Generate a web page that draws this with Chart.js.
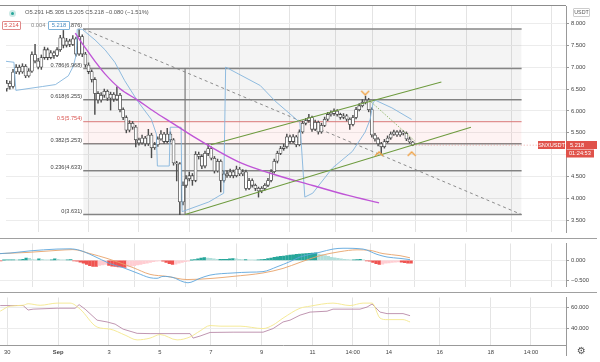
<!DOCTYPE html>
<html><head><meta charset="utf-8">
<script src="https://cdn.jsdelivr.net/npm/chart.js@4/dist/chart.umd.min.js"></script>
<style>
html,body{margin:0;padding:0;background:#fff;}
#wrap{position:relative;width:600px;height:362px;overflow:hidden;font-family:"Liberation Sans",Arial,sans-serif;}
canvas{position:absolute;left:0;}
.t{position:absolute;font-size:5.8px;color:#444;white-space:nowrap;line-height:1;}
.ln{position:absolute;background:#999;}
.box{position:absolute;font-size:5.8px;line-height:7px;text-align:center;background:#fff;box-sizing:border-box;border-radius:1px;}
</style></head><body>
<div id="wrap">
<canvas id="c1" width="600" height="238" style="top:0;width:600px;height:238px"></canvas>
<canvas id="c2" width="600" height="54" style="top:238px;width:600px;height:54px"></canvas>
<canvas id="c3" width="600" height="70" style="top:292px;width:600px;height:70px"></canvas>
<div class="ln" style="left:0;top:5px;width:566px;height:1px;background:#8c8c8c"></div>
<div class="ln" style="left:0;top:238px;width:597px;height:1px;background:#a0a0a0"></div>
<div class="ln" style="left:0;top:292px;width:597px;height:1px;background:#a0a0a0"></div>
<div class="ln" style="left:566px;top:345px;width:1px;height:11px;background:#999"></div>
<div style="position:absolute;left:9px;top:10px;width:7px;height:7px;border-radius:50%;background:#cdeae6"></div>
<div style="position:absolute;left:11px;top:12px;width:3px;height:3px;border-radius:50%;background:#26a69a"></div>
<div class="t" style="left:25px;top:10px;color:#555">O5.291 H5.305 L5.205 C5.218 −0.080 (−1.51%)</div>
<div class="box" style="left:2px;top:21px;width:19px;height:9px;border:1px solid #e08a8a;color:#d9534f">5.214</div>
<div class="t" style="left:31px;top:23px;color:#888">0.004</div>
<div class="box" style="left:48px;top:21px;width:22px;height:9px;border:1px solid #7fb3d9;color:#4a8cc0">5.218</div>
<div class="box" style="left:573px;top:8px;width:17px;height:9px;border:1px solid #ccc;color:#555;font-size:5.3px">USDT</div>
<div class="t" style="left:577px;top:346px;font-size:10px;color:#555;font-family:'DejaVu Sans'">⚙</div>
</div>
<script>
// ---------- candles (3h bars, first bar 2020-08-29 18:00 UTC) ----------
const START = '2020-08-29T18:00:00Z';
const opens = [
6.51,6.63,6.56,6.89,7.00,6.89,7.02,6.80,6.91,7.29,
7.14,7.00,7.22,7.40,7.22,7.33,7.27,7.40,7.67,7.50,
7.60,7.52,7.65,7.30,7.70,7.30,7.05,6.90,6.72,6.40,
6.25,6.36,6.45,6.29,6.38,6.27,6.36,6.03,5.85,5.56,
5.72,5.63,5.34,5.27,5.38,5.25,5.45,5.16,5.23,5.36,
5.47,5.30,5.47,5.34,4.81,4.79,3.92,4.30,4.45,4.52,
4.41,5.01,4.96,4.74,5.03,5.14,4.92,4.63,4.85,4.41,
4.56,4.52,4.61,4.52,4.67,4.56,4.61,4.23,4.41,4.30,
4.23,4.17,4.23,4.30,4.41,4.61,4.85,5.03,5.14,5.18,
5.41,5.30,5.41,5.23,5.52,5.72,5.78,5.85,5.58,5.74,
5.52,5.67,5.81,5.92,5.94,6.00,5.92,5.85,5.89,5.81,
5.69,5.85,6.03,6.12,6.20,6.25,6.03,5.45,5.36,5.25,
5.18,5.30,5.38,5.47,5.52,5.45,5.52,5.49,5.36,5.291];
const highs = [
6.70,6.68,6.95,7.06,7.05,7.08,7.06,6.97,7.35,7.52,
7.20,7.28,7.46,7.44,7.38,7.37,7.45,7.73,7.84,7.66,
7.64,7.72,7.69,7.87,7.74,7.34,7.10,6.94,6.76,6.44,
6.42,6.50,6.48,6.43,6.42,6.55,6.40,6.07,5.89,5.78,
5.76,5.67,5.38,5.45,5.42,5.58,5.49,5.28,5.41,5.55,
5.51,5.60,5.52,5.37,4.85,4.82,4.38,4.52,4.60,4.57,
5.07,5.06,5.00,5.08,5.23,5.18,4.96,4.90,4.88,4.62,
4.63,4.67,4.65,4.74,4.71,4.66,4.65,4.46,4.45,4.33,
4.26,4.27,4.34,4.46,4.66,4.90,5.08,5.19,5.24,5.47,
5.45,5.46,5.44,5.57,5.77,5.83,5.92,5.88,5.79,5.77,
5.72,5.86,5.97,6.00,6.05,6.03,5.95,5.94,5.92,5.84,
5.90,6.08,6.17,6.26,6.34,6.29,6.07,5.49,5.39,5.28,
5.35,5.43,5.52,5.56,5.55,5.56,5.55,5.52,5.40,5.305];
const lows = [
6.45,6.50,6.52,6.85,6.84,6.86,6.76,6.77,6.88,7.10,
6.96,6.95,7.18,7.17,7.19,7.20,7.24,7.36,7.44,7.46,
7.47,7.49,7.25,7.27,7.24,7.00,6.85,6.66,5.92,6.18,
6.20,6.31,6.24,6.02,6.22,6.24,5.98,5.80,5.50,5.52,
5.58,5.18,5.22,5.24,5.20,5.21,4.93,5.12,5.19,5.33,
5.26,5.27,5.29,4.76,4.40,3.63,3.85,4.25,4.40,4.30,
4.38,4.90,4.68,4.70,4.98,4.88,4.58,4.60,4.15,4.37,
4.48,4.48,4.47,4.49,4.52,4.52,4.19,4.20,4.26,4.18,
4.03,4.13,4.19,4.27,4.38,4.58,4.81,5.00,5.10,5.15,
5.26,5.27,5.18,5.20,5.49,5.68,5.74,5.53,5.55,5.47,
5.49,5.64,5.78,5.88,5.90,5.88,5.81,5.82,5.77,5.58,
5.66,5.82,6.00,6.09,6.16,5.98,5.40,5.31,5.20,5.03,
5.15,5.27,5.35,5.44,5.42,5.42,5.45,5.32,5.26,5.205];
const closes = [
6.63,6.56,6.89,7.00,6.89,7.02,6.80,6.91,7.29,7.14,
7.00,7.22,7.40,7.22,7.33,7.27,7.40,7.67,7.50,7.60,
7.52,7.65,7.30,7.70,7.30,7.05,6.90,6.72,6.40,6.25,
6.36,6.45,6.29,6.38,6.27,6.36,6.03,5.85,5.56,5.72,
5.63,5.34,5.27,5.38,5.25,5.45,5.16,5.23,5.36,5.47,
5.30,5.47,5.34,4.81,4.79,3.92,4.30,4.45,4.52,4.41,
5.01,4.96,4.74,5.03,5.14,4.92,4.63,4.85,4.41,4.56,
4.52,4.61,4.52,4.67,4.56,4.61,4.23,4.41,4.30,4.23,
4.17,4.23,4.30,4.41,4.61,4.85,5.03,5.14,5.18,5.41,
5.30,5.41,5.23,5.52,5.72,5.78,5.85,5.58,5.74,5.52,
5.67,5.81,5.92,5.94,6.00,5.92,5.85,5.89,5.81,5.69,
5.85,6.03,6.12,6.20,6.25,6.03,5.45,5.36,5.25,5.18,
5.30,5.38,5.47,5.52,5.45,5.52,5.49,5.36,5.291,5.218];

// MACD histogram, one value per bar
const macdHist = [
-0.01,0.005,0.01,0.01,0.015,0.01,0.01,0.03,0.06,0.05,
0.02,0.015,0.04,0.03,0.015,0.01,0.01,0.04,0.03,0.015,
0.01,0.015,0.02,-0.01,-0.02,-0.04,-0.07,-0.10,-0.13,-0.15,
-0.15,-0.12,-0.11,-0.10,-0.12,-0.14,-0.15,-0.16,-0.16,-0.17,
-0.15,-0.14,-0.13,-0.11,-0.10,-0.08,-0.07,-0.05,-0.03,-0.02,
-0.01,-0.02,-0.05,-0.08,-0.10,-0.09,-0.07,-0.05,-0.03,-0.015,
0.005,0.02,0.04,0.06,0.07,0.06,0.05,0.04,0.03,0.03,
0.03,0.03,0.04,0.045,0.04,0.03,0.02,0.02,0.015,0.01,
0.005,0.01,0.02,0.03,0.045,0.06,0.075,0.09,0.10,0.11,
0.12,0.13,0.14,0.15,0.16,0.165,0.17,0.175,0.18,0.185,
0.16,0.14,0.12,0.10,0.08,0.065,0.05,0.04,0.03,0.02,
0.01,0.015,0.02,0.025,0.01,-0.01,-0.02,-0.05,-0.08,-0.10,
-0.09,-0.07,-0.06,-0.05,-0.04,-0.035,-0.045,-0.055,-0.065,-0.07];

// MACD / signal lines (bar index, value)
const macdBar = [-0.23,2.91,9.20,17.69,21.78,24.92,29.01,34.35,38.44,42.84,46.92,49.13,51.01,54.16,57.30,58.87,62.64,65.79,73.02,78.36,82.45,86.85,90.93,94.08,100.37,104.45,107.60,113.88,118.29,121.43,125.52,128.66];
const macdVal = [0.169,0.183,0.236,0.281,0.287,0.248,0.118,-0.079,-0.177,-0.309,-0.427,-0.441,-0.394,-0.421,-0.526,-0.551,-0.441,-0.362,-0.309,-0.289,-0.276,-0.157,-0.028,0.085,0.203,0.281,0.301,0.281,0.150,0.085,0.051,0.020];
const signalBar = [-0.23,8.26,17.69,22.72,28.06,33.41,41.58,46.92,52.27,58.56,66.73,73.02,82.45,88.74,94.08,100.37,106.66,112.00,116.09,120.17,125.52,128.66];
const signalVal = [0.169,0.197,0.248,0.268,0.169,0.051,-0.177,-0.343,-0.394,-0.472,-0.441,-0.394,-0.309,-0.197,-0.047,0.118,0.217,0.262,0.248,0.169,0.118,0.065];

// lower oscillator lines
const oscABar = [-0.23,7.00,8.57,10.14,17.69,23.35,24.60,26.49,30.26,33.41,35.92,38.44,42.84,46.92,59.50,60.44,62.64,65.79,73.02,82.45,85.59,88.74,90.93,94.08,97.22,102.57,104.45,112.94,115.14,116.72,119.23,121.43,126.46,128.66];
const oscAVal = [61.69,61.69,57.47,58.31,59.16,59.16,62.53,58.31,47.93,46.24,44.22,39.49,35.53,35.27,35.27,31.05,33.00,36.37,36.62,36.62,40.00,46.24,47.93,52.66,55.53,56.37,58.31,58.31,60.25,63.12,55.53,54.09,54.09,52.15];
const oscBBar = [-0.23,2.91,7.00,8.57,12.34,17.69,21.78,24.92,30.26,34.35,39.07,42.84,46.92,50.07,55.41,59.50,62.64,65.79,68.93,75.22,82.45,85.59,88.74,94.08,97.22,104.45,109.80,113.88,116.72,119.23,121.43,126.46,128.66];
const oscBVal = [56.37,61.10,61.94,63.38,61.94,63.97,63.97,58.31,41.43,39.49,33.84,29.37,31.05,34.43,29.37,32.15,37.81,42.87,42.28,42.28,40.00,43.38,49.87,59.16,61.10,63.97,61.69,63.97,63.97,49.87,48.44,48.44,46.24];

// overlay indicator lines on price pane (bar index, price)
const maBar = [21.78,24.92,28.06,31.21,35.92,41.58,46.92,52.27,59.50,65.79,74.59,85.28,97.22,108.2,118.3];
const maVal = [7.778,7.446,7.135,6.847,6.514,6.248,5.982,5.738,5.406,5.140,4.807,4.541,4.297,4.075,3.898];
const stopBar = [-0.23,2.29,2.91,11.40,15.49,19.58,21.15,22.09,22.40,23.98,28.06,31.21,34.35,37.49,41.58,45.98,47.55,47.87,51.64,51.95,55.41,55.73,64.22,68.93,69.56,80.56,85.28,93.14,94.71,97.22,103.51,109.80,113.88,115.46,116.40,117.03,122.37,128.66];
const stopVal = [7.135,7.113,6.470,6.559,6.603,6.803,7.024,7.290,7.867,7.867,7.623,7.401,7.113,6.692,6.226,5.805,5.472,4.741,4.741,5.628,5.628,3.698,3.920,4.120,7.002,6.581,6.226,5.738,4.031,4.120,4.696,5.073,5.517,5.805,6.182,6.248,6.071,5.805];

// drawings
const fibRatios = [1,0.786,0.618,0.5,0.382,0.236,0];
const fibPrices = [7.876,6.968,6.255,5.754,5.253,4.633,3.631];
const fibFrom = 24.3, fibTo = 163.6;
const channelUpper = [[64.84,5.229],[138.1,6.66]];
const channelLower = [[56.67,3.631],[147.5,5.628]];
const projection = [[115.1,6.248],[129.6,5.317]];
const pivotHigh = [[113.9,6.404]];
const pivotLow = [[118.3,5.029],[128.66,5.029]];
const verticalAt = 56.67;

// axis ticks
const tickDates = ['2020-08-30T00:00Z','2020-09-01T00:00Z','2020-09-03T00:00Z','2020-09-05T00:00Z','2020-09-07T00:00Z','2020-09-09T00:00Z','2020-09-11T00:00Z','2020-09-12T14:00Z','2020-09-14T00:00Z','2020-09-16T00:00Z','2020-09-18T00:00Z','2020-09-19T14:00Z'];
const tickLabels = ['30','Sep','3','5','7','9','11','14:00','14','16','18','14:00'];
const priceTicks = [3.5,4,4.5,5,5.5,6,6.5,7,7.5,8];
const macdTicks = [-0.5,0];
const oscTicks = [40,60];
const lastPrice = 5.218, symbol = 'SNXUSDT', countdown = '01:24:53';

// ---------- chart setup ----------
const t0 = Date.parse(START);
const tickIdx = tickDates.map(s => (Date.parse(s) - t0) / (3 * 3600e3));
const X_MIN = -0.23, X_MAX = 177.7;
Chart.defaults.font.family = '"Liberation Sans", Arial, sans-serif';
Chart.defaults.font.size = 5.8;
Chart.defaults.color = '#444';

const pts = (xs, ys) => xs.map((x, i) => ({x, y: ys[i]}));
const pairs = a => a.map(p => ({x: p[0], y: p[1]}));

function xAxis(labels) {
  return {
    type: 'linear', min: X_MIN, max: X_MAX, offset: false,
    afterBuildTicks: s => { s.ticks = tickIdx.map(v => ({value: v})); },
    afterFit: s => { s.height = labels ? 17 : 0; },
    grid: {color: '#e4e4e4', lineWidth: 1, drawTicks: false},
    border: {display: labels, color: '#999'},
    ticks: {display: labels, autoSkip: false, maxRotation: 0, padding: 4, color: '#444',
      callback: (v, i) => tickLabels[i],
      font: c => ({size: 5.8, weight: c.index === 1 ? 'bold' : 'normal'})}
  };
}
function yAxis(min, max, ticks, fmt) {
  return {
    type: 'linear', position: 'right', min, max,
    afterBuildTicks: s => { s.ticks = ticks.map(v => ({value: v})); },
    afterFit: s => { s.width = 34; },
    grid: {color: '#ececec', tickLength: 3, tickColor: '#999'},
    border: {display: true, color: '#999'},
    ticks: {callback: fmt, color: '#444', padding: 2, font: {size: 5.8}}
  };
}
const fmt3 = v => (v < 0 ? '\u2212' : '') + Math.abs(v).toFixed(3);
const base = {
  responsive: false, animation: false, devicePixelRatio: 1, events: [],
  plugins: {legend: {display: false}, tooltip: {enabled: false}},
  elements: {point: {radius: 0}, line: {tension: 0}}
};

function chevron(up) {
  const c = document.createElement('canvas'); c.width = 10; c.height = 7;
  const g = c.getContext('2d'); g.strokeStyle = '#f0a040'; g.lineWidth = 1.3;
  g.beginPath();
  if (up) { g.moveTo(1, 6); g.lineTo(5, 2); g.lineTo(9, 6); }
  else { g.moveTo(1, 1); g.lineTo(5, 5); g.lineTo(9, 1); }
  g.stroke(); return c;
}

// fib datasets
const fibSets = fibRatios.map((r, k) => ({
  type: 'line', order: 20,
  data: [{x: fibFrom, y: fibPrices[k]}, {x: fibTo, y: fibPrices[k]}],
  borderColor: r === 0.5 ? '#e07a7a' : '#878787',
  borderWidth: r === 0.5 ? 1 : 1.5,
  pointRadius: 0,
  fill: k < fibRatios.length - 1 ? '+1' : false,
  backgroundColor: r === 0.5 ? 'rgba(235,90,90,0.07)' : 'rgba(0,0,0,0.045)'
}));

const idx = closes.map((c, i) => i);
const mainPlugin = {
  id: 'mainText',
  afterDraw(chart) {
    const {ctx, scales: {x, y}, chartArea} = chart;
    ctx.save();
    ctx.font = '5.6px "Liberation Sans", Arial, sans-serif';
    ctx.textAlign = 'right'; ctx.textBaseline = 'bottom';
    fibRatios.forEach((r, k) => {
      ctx.fillStyle = r === 0.5 ? '#d9534f' : '#444';
      ctx.fillText(r + '(' + fibPrices[k].toFixed(3) + ')', x.getPixelForValue(fibFrom) - 1, y.getPixelForValue(fibPrices[k]) - 0.5);
    });
    const py = Math.round(y.getPixelForValue(lastPrice));
    const R = chartArea.right;
    ctx.fillStyle = '#e0524a';
    ctx.fillRect(R - 28, py - 4, 27, 8);
    ctx.fillRect(R, py - 4, 31, 8);
    ctx.fillRect(R, py + 4.5, 28, 8);
    ctx.fillStyle = '#fff'; ctx.textBaseline = 'middle';
    ctx.textAlign = 'center'; ctx.fillText(symbol, R - 14.5, py);
    ctx.textAlign = 'left'; ctx.fillText(lastPrice.toFixed(3), R + 4, py);
    ctx.fillText(countdown, R + 3, py + 8.5);
    ctx.restore();
  }
};

new Chart(document.getElementById('c1'), {
  type: 'line',
  data: {datasets: [
    ...fibSets,
    {type: 'line', order: 6, data: [{x: fibFrom, y: fibPrices[0]}, {x: fibTo, y: fibPrices[6]}], borderColor: '#808080', borderWidth: 0.9, borderDash: [3, 3], pointRadius: 0},
    {type: 'line', order: 6, data: [{x: verticalAt, y: fibPrices[1]}, {x: verticalAt, y: fibPrices[6]}], borderColor: '#7a7a7a', borderWidth: 1.2, pointRadius: 0},
    {type: 'line', order: 1, data: pairs(channelUpper), borderColor: '#6e9b3f', borderWidth: 1.1, pointRadius: 0},
    {type: 'line', order: 1, data: pairs(channelLower), borderColor: '#6e9b3f', borderWidth: 1.1, pointRadius: 0},
    {type: 'line', order: 1, data: pairs(projection), borderColor: '#93b86e', borderWidth: 1, borderDash: [1.5, 1.5], pointRadius: 0},
    {type: 'bar', order: 4, grouped: false, barThickness: 0.8, backgroundColor: '#4d4d4d',
      data: idx.map(i => ({x: i, y: [lows[i], highs[i]]}))},
    {type: 'bar', order: 3, grouped: false, barThickness: 3.1, backgroundColor: '#ffffff', borderColor: '#4d4d4d', borderWidth: 0.8, borderSkipped: false, minBarLength: 1,
      data: idx.map(i => ({x: i, y: [opens[i], closes[i]]}))},
    {type: 'line', order: 1, data: pts(maBar, maVal), borderColor: '#bf55d6', borderWidth: 1.4, pointRadius: 0, cubicInterpolationMode: 'monotone'},
    {type: 'line', order: 1, data: pts(stopBar, stopVal), borderColor: '#83b4dc', borderWidth: 0.9, pointRadius: 0},
    {type: 'line', order: 1, data: [{x: closes.length - 1, y: lastPrice}, {x: X_MAX, y: lastPrice}], borderColor: 'rgba(224,82,74,0.6)', borderWidth: 0.8, borderDash: [1, 2], pointRadius: 0},
    {type: 'line', order: 0, showLine: false, data: pairs(pivotHigh), pointStyle: chevron(false), pointRadius: 5},
    {type: 'line', order: 0, showLine: false, data: pairs(pivotLow), pointStyle: chevron(true), pointRadius: 5}
  ]},
  options: {...base, layout: {padding: {top: 5, left: 0, right: 0, bottom: 0}},
    scales: {x: xAxis(false), y: yAxis(3.233, 8.399, priceTicks, fmt3)}},
  plugins: [mainPlugin]
});

const histColor = light => c => {
  const i = c.dataIndex, v = macdHist[i], p = i > 0 ? macdHist[i - 1] : 0;
  if (v >= 0) return (v >= p) ? '#26a69a' : '#b2dfdb';
  return (v <= p) ? '#ef5350' : '#ffcdd2';
};
new Chart(document.getElementById('c2'), {
  type: 'line',
  data: {datasets: [
    {type: 'bar', order: 3, grouped: false, barThickness: 2.7, data: idx.map(i => ({x: i, y: macdHist[i]})), backgroundColor: histColor()},
    {type: 'line', order: 1, data: pts(macdBar, macdVal), borderColor: '#5ea6dc', borderWidth: 0.9, pointRadius: 0, cubicInterpolationMode: 'monotone'},
    {type: 'line', order: 1, data: pts(signalBar, signalVal), borderColor: '#e8a36a', borderWidth: 0.9, pointRadius: 0, cubicInterpolationMode: 'monotone'}
  ]},
  options: {...base, layout: {padding: 0},
    scales: {x: xAxis(false), y: yAxis(-0.644, 0.419, macdTicks, fmt3)}}
});

new Chart(document.getElementById('c3'), {
  type: 'line',
  data: {datasets: [
    {data: pts(oscBBar, oscBVal), borderColor: '#f4e88c', borderWidth: 0.9, pointRadius: 0, cubicInterpolationMode: 'monotone'},
    {data: pts(oscABar, oscAVal), borderColor: '#b98aa8', borderWidth: 0.9, pointRadius: 0}
  ]},
  options: {...base, layout: {padding: 0},
    scales: {x: xAxis(true), y: yAxis(24.56, 69.28, oscTicks, fmt3)}}
});
</script>
</body></html>
